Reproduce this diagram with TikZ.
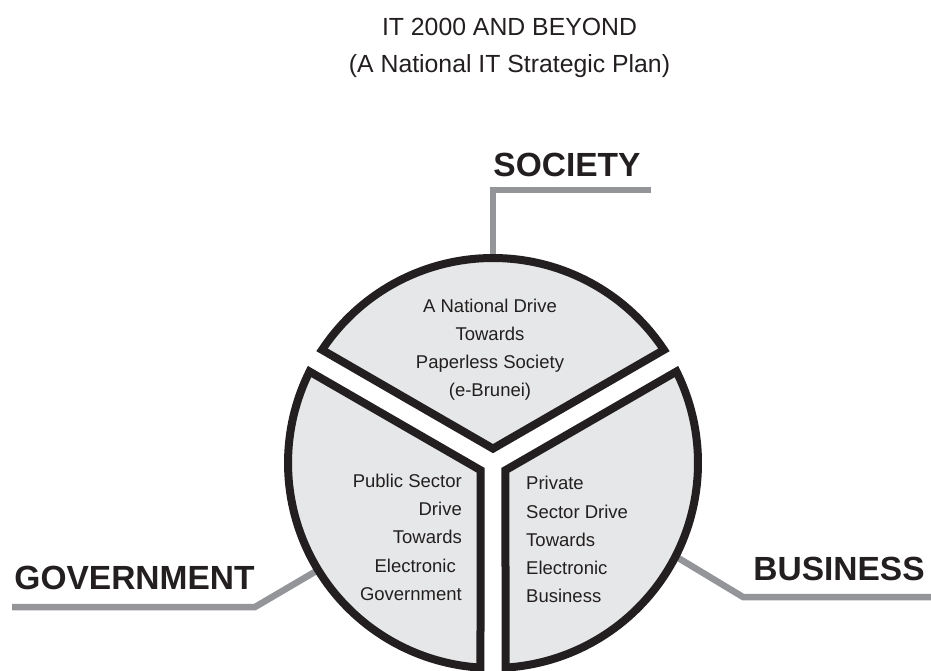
\documentclass[tikz,border=0pt]{standalone}
\usepackage{fontspec}
\setmainfont{Liberation Sans}
\definecolor{ink}{HTML}{231F20}
\definecolor{panel}{HTML}{E6E7E8}
\definecolor{link}{HTML}{939598}
\begin{document}
\begin{tikzpicture}[x=1pt, y=1pt, line join=miter, text=ink,
	sector/.style={draw=ink, fill=panel, line width=8pt},
	leader/.style={draw=link, line width=6.5pt},
	heading/.style={font=\fontsize{33.5}{40}\selectfont\bfseries, anchor=base, inner sep=0pt},
	blurb/.style={font=\fontsize{18.5}{28.3}\selectfont, inner sep=0pt}]
	\def\rad{205} % radius of the wheel
	\def\gap{14.4}
	\def\half{56.5}
	\useasboundingbox (0,0) rectangle (931,670);
	\coordinate (c) at (493,207);
	\node[font=\fontsize{24.8}{37}\selectfont, align=center, inner sep=0pt] (title) at (509.5,622) {IT 2000 AND BEYOND\\(A National IT Strategic Plan)};
	% leaders
	\coordinate (socIn) at (493,400);
	\coordinate (socK) at (493,480);
	\coordinate (socEnd) at (651,480);
	\coordinate (govIn) at (330,107);
	\coordinate (govK) at (255,63);
	\coordinate (govEnd) at (12,63);
	\coordinate (busIn) at (665,120);
	\coordinate (busK) at (743,73);
	\coordinate (busEnd) at (935,73);
	\draw[leader] (socIn) -- (socK) -- (socEnd);
	\draw[leader] (govIn) -- (govK) -- (govEnd);
	\draw[leader] (busIn) -- (busK) -- (busEnd);
	% wheel
	\foreach \m in {90,210,330}
		\draw[sector, shift={(c)}] (\m:\gap) -- ({\m+\half}:\rad) arc[start angle=\m+\half, end angle=\m-\half, radius=\rad] -- cycle;
	\node[heading] (society) at (567,493) {SOCIETY};
	\node[heading] (government) at (134.5,81) {GOVERNMENT};
	\node[heading] (business) at (839,90) {BUSINESS};
	\node[blurb, align=center] (societyText) at (490,320.3) {A National Drive\\Towards\\Paperless Society\\(e-Brunei)};
	\node[blurb, align=right, anchor=east] (governmentText) at (462,132.7) {Public Sector\\Drive\\Towards\\Electronic\hbox to 6pt{}\\Government};
	\node[blurb, align=left, anchor=west] (businessText) at (526,130.3) {Private\\Sector Drive\\Towards\\Electronic\\Business};
\end{tikzpicture}
\end{document}
